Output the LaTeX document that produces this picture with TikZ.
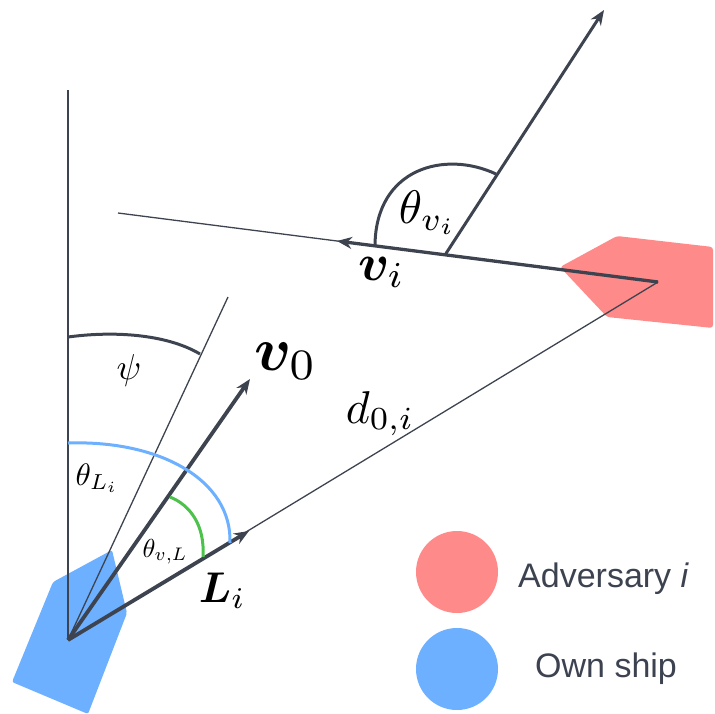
\documentclass[tikz,border=0pt]{standalone}
\usepackage{fontspec}
\usepackage{bm}
\newfontfamily\legendfont{Liberation Sans}
\usetikzlibrary{arrows.meta}
\definecolor{ink}{HTML}{3D4450}
\definecolor{advred}{HTML}{FF8A8A}
\definecolor{ownblue}{HTML}{6CB0FF}
\definecolor{arcgreen}{HTML}{4CC14C}
\definecolor{txtgrey}{HTML}{3C4250}
\begin{document}
\begin{tikzpicture}[x=1pt,y=-1pt,
  thinln/.style={draw=ink,line width=1.3pt},
  midln/.style={draw=ink,line width=2pt},
  thickln/.style={draw=ink,line width=3.8pt},
  vecarrow/.style={-{Stealth[length=15pt,width=12pt]}},
  arcln/.style={line width=3pt},
  lbl/.style={inner sep=0pt,anchor=base west,text=black},
  legtext/.style={inner sep=0pt,anchor=base west,text=txtgrey,font=\legendfont\fontsize{34}{40}\selectfont}]
\useasboundingbox (0,0) rectangle (715,713);
% ships
\fill[ownblue,rounded corners=2pt] (53,582) -- (112,550) -- (127,613) -- (88,714) -- (12,682) -- cycle;
\fill[advred,rounded corners=3pt] (560,267) -- (617,236) -- (713,247) -- (713,328) -- (607,317) -- cycle;
% key points
\coordinate (O) at (68,640);
\coordinate (A) at (658,282);
\coordinate (N) at (68,90);
\coordinate (H) at (228,297);
\coordinate (V0) at (250,379);
\coordinate (Lt) at (249,531);
\coordinate (Vt) at (337,241);
\coordinate (Vend) at (118,213);
\coordinate (B) at (445,255);
\coordinate (Bt) at (604,10);
% lines
\draw[midln] (N) -- (O);
\draw[thinln] (O) -- (H);
\draw[thinln] (O) -- (A);
\draw[thinln] (A) -- (Vend);
\draw[thickln,vecarrow] (O) -- (V0);
\draw[thickln,vecarrow] (O) -- (Lt);
\draw[draw=ink,line width=3.3pt,vecarrow] (A) -- (Vt);
\draw[draw=ink,line width=3pt,vecarrow] (B) -- (Bt);
% arcs
\draw[ink,arcln] (68,337) .. controls (120,330) and (170,336) .. (200,354);
\draw[ownblue,arcln] (68,443) .. controls (160,440) and (232,480) .. (230,543);
\draw[arcgreen,arcln] (170,497) .. controls (190,505) and (205,525) .. (203,557);
\draw[ink,arcln] (375,245) .. controls (376,168) and (445,150) .. (496,174);
% labels
\node[lbl,scale=6.2] (lv0) at (253,370) {$\bm{v}_0$};
\node[lbl,scale=5.2] (lvi) at (357,280) {$\bm{v}_i$};
\node[lbl,scale=4.7] (ltvi) at (398,223) {$\theta_{v_i}$};
\node[lbl,scale=4.6] (ld) at (345,423) {$d_{0,i}$};
\node[inner sep=0pt,scale=3.6] (lpsi) at (129,370) {$\psi$};
\node[lbl,scale=3.1] (ltL) at (75,485) {$\theta_{L_i}$};
\node[lbl,scale=2.6] (ltvL) at (142,557) {$\theta_{v,L}$};
\node[lbl,scale=4.3] (lL) at (198,602) {$\bm{L}_i$};
% legend
\fill[advred] (457,572) circle (41) coordinate (redc);
\fill[ownblue] (457,669) circle (41) coordinate (bluec);
\node[legtext] (ladv) at (518,587) {Adversary \textit{i}};
\node[legtext] (lown) at (535,677) {Own ship};
\end{tikzpicture}
\end{document}
